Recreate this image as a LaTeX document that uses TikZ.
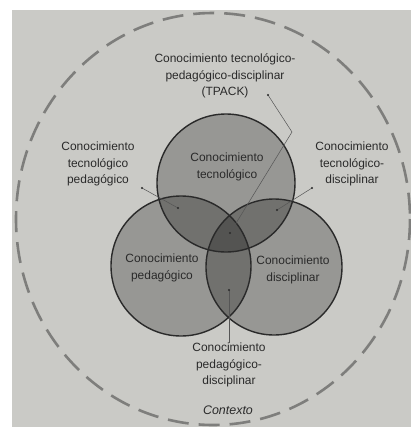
\documentclass[tikz,border=0pt]{standalone}
\usepackage{fontspec}
\setmainfont{Liberation Sans}
\begin{document}
\begin{tikzpicture}[x=1bp,y=-1bp,
  lbl/.style={align=center,font=\fontsize{12}{16.5}\selectfont,text=ink,inner sep=0pt},
  setc/.style={fill=black,fill opacity=0.25},
  ring/.style={draw=ink,line width=1.4bp},
  ctx/.style={draw=ctxgray,line width=2.6bp,dash pattern=on 21bp off 10bp},
  ptr/.style={draw=ink!80,line width=0.5bp},
  tick/.style={fill=ink,radius=1.1bp}]
\definecolor{page}{HTML}{CACAC6}
\definecolor{ink}{HTML}{2A2A2A}
\definecolor{ctxgray}{HTML}{7E7E7C}
\useasboundingbox (0,0) rectangle (411,427);
\fill[white] (0,0) rectangle (411,427);
\fill[page] (12,10) rectangle (411,427);
% context
\draw[ctx] (213,219) ellipse [x radius=197, y radius=206];
% circle centres
\coordinate (T) at (226,183);
\coordinate (P) at (181,266);
\coordinate (D) at (274,267);
\fill[setc] (T) circle (69);
\fill[setc] (P) circle (70);
\fill[setc] (D) circle (68);
\draw[ring] (T) circle (69);
\draw[ring] (P) circle (70);
\draw[ring] (D) circle (68);
% labels inside
\node[lbl] (tk) at (227,167) {Conocimiento\\tecnológico};
\node[lbl] (pk) at (162,268) {Conocimiento\\pedagógico};
\node[lbl] (dk) at (293,270) {Conocimiento\\disciplinar};
% labels outside
\node[lbl] (tpack) at (225,76) {Conocimiento tecnológico-\\pedagógico-disciplinar\\(TPACK)};
\node[lbl] (tpk) at (98,164) {Conocimiento\\tecnológico\\pedagógico};
\node[lbl] (tdk) at (352,164) {Conocimiento\\tecnológico-\\disciplinar};
\node[lbl] (pdk) at (229,365) {Conocimiento\\pedagógico-\\disciplinar};
\node[lbl,font=\fontsize{12.5}{15}\selectfont\itshape] (ctxl) at (228,410) {Contexto};
% pointers
\coordinate (a1) at (268,95);
\coordinate (a2) at (292,132);
\coordinate (a3) at (230,233);
\draw[ptr] (a1) -- (a2) -- (a3);
\fill[tick] (a1) circle; \fill[tick] (a3) circle;
\coordinate (b1) at (142,188);
\coordinate (b2) at (178,208);
\draw[ptr] (b1) -- (b2);
\fill[tick] (b1) circle; \fill[tick] (b2) circle;
\coordinate (c1) at (312,188);
\coordinate (c2) at (277,210);
\draw[ptr] (c1) -- (c2);
\fill[tick] (c1) circle; \fill[tick] (c2) circle;
\coordinate (d1) at (229,290);
\draw[ptr] (d1) -- (pdk.north);
\fill[tick] (d1) circle;
\end{tikzpicture}
\end{document}
